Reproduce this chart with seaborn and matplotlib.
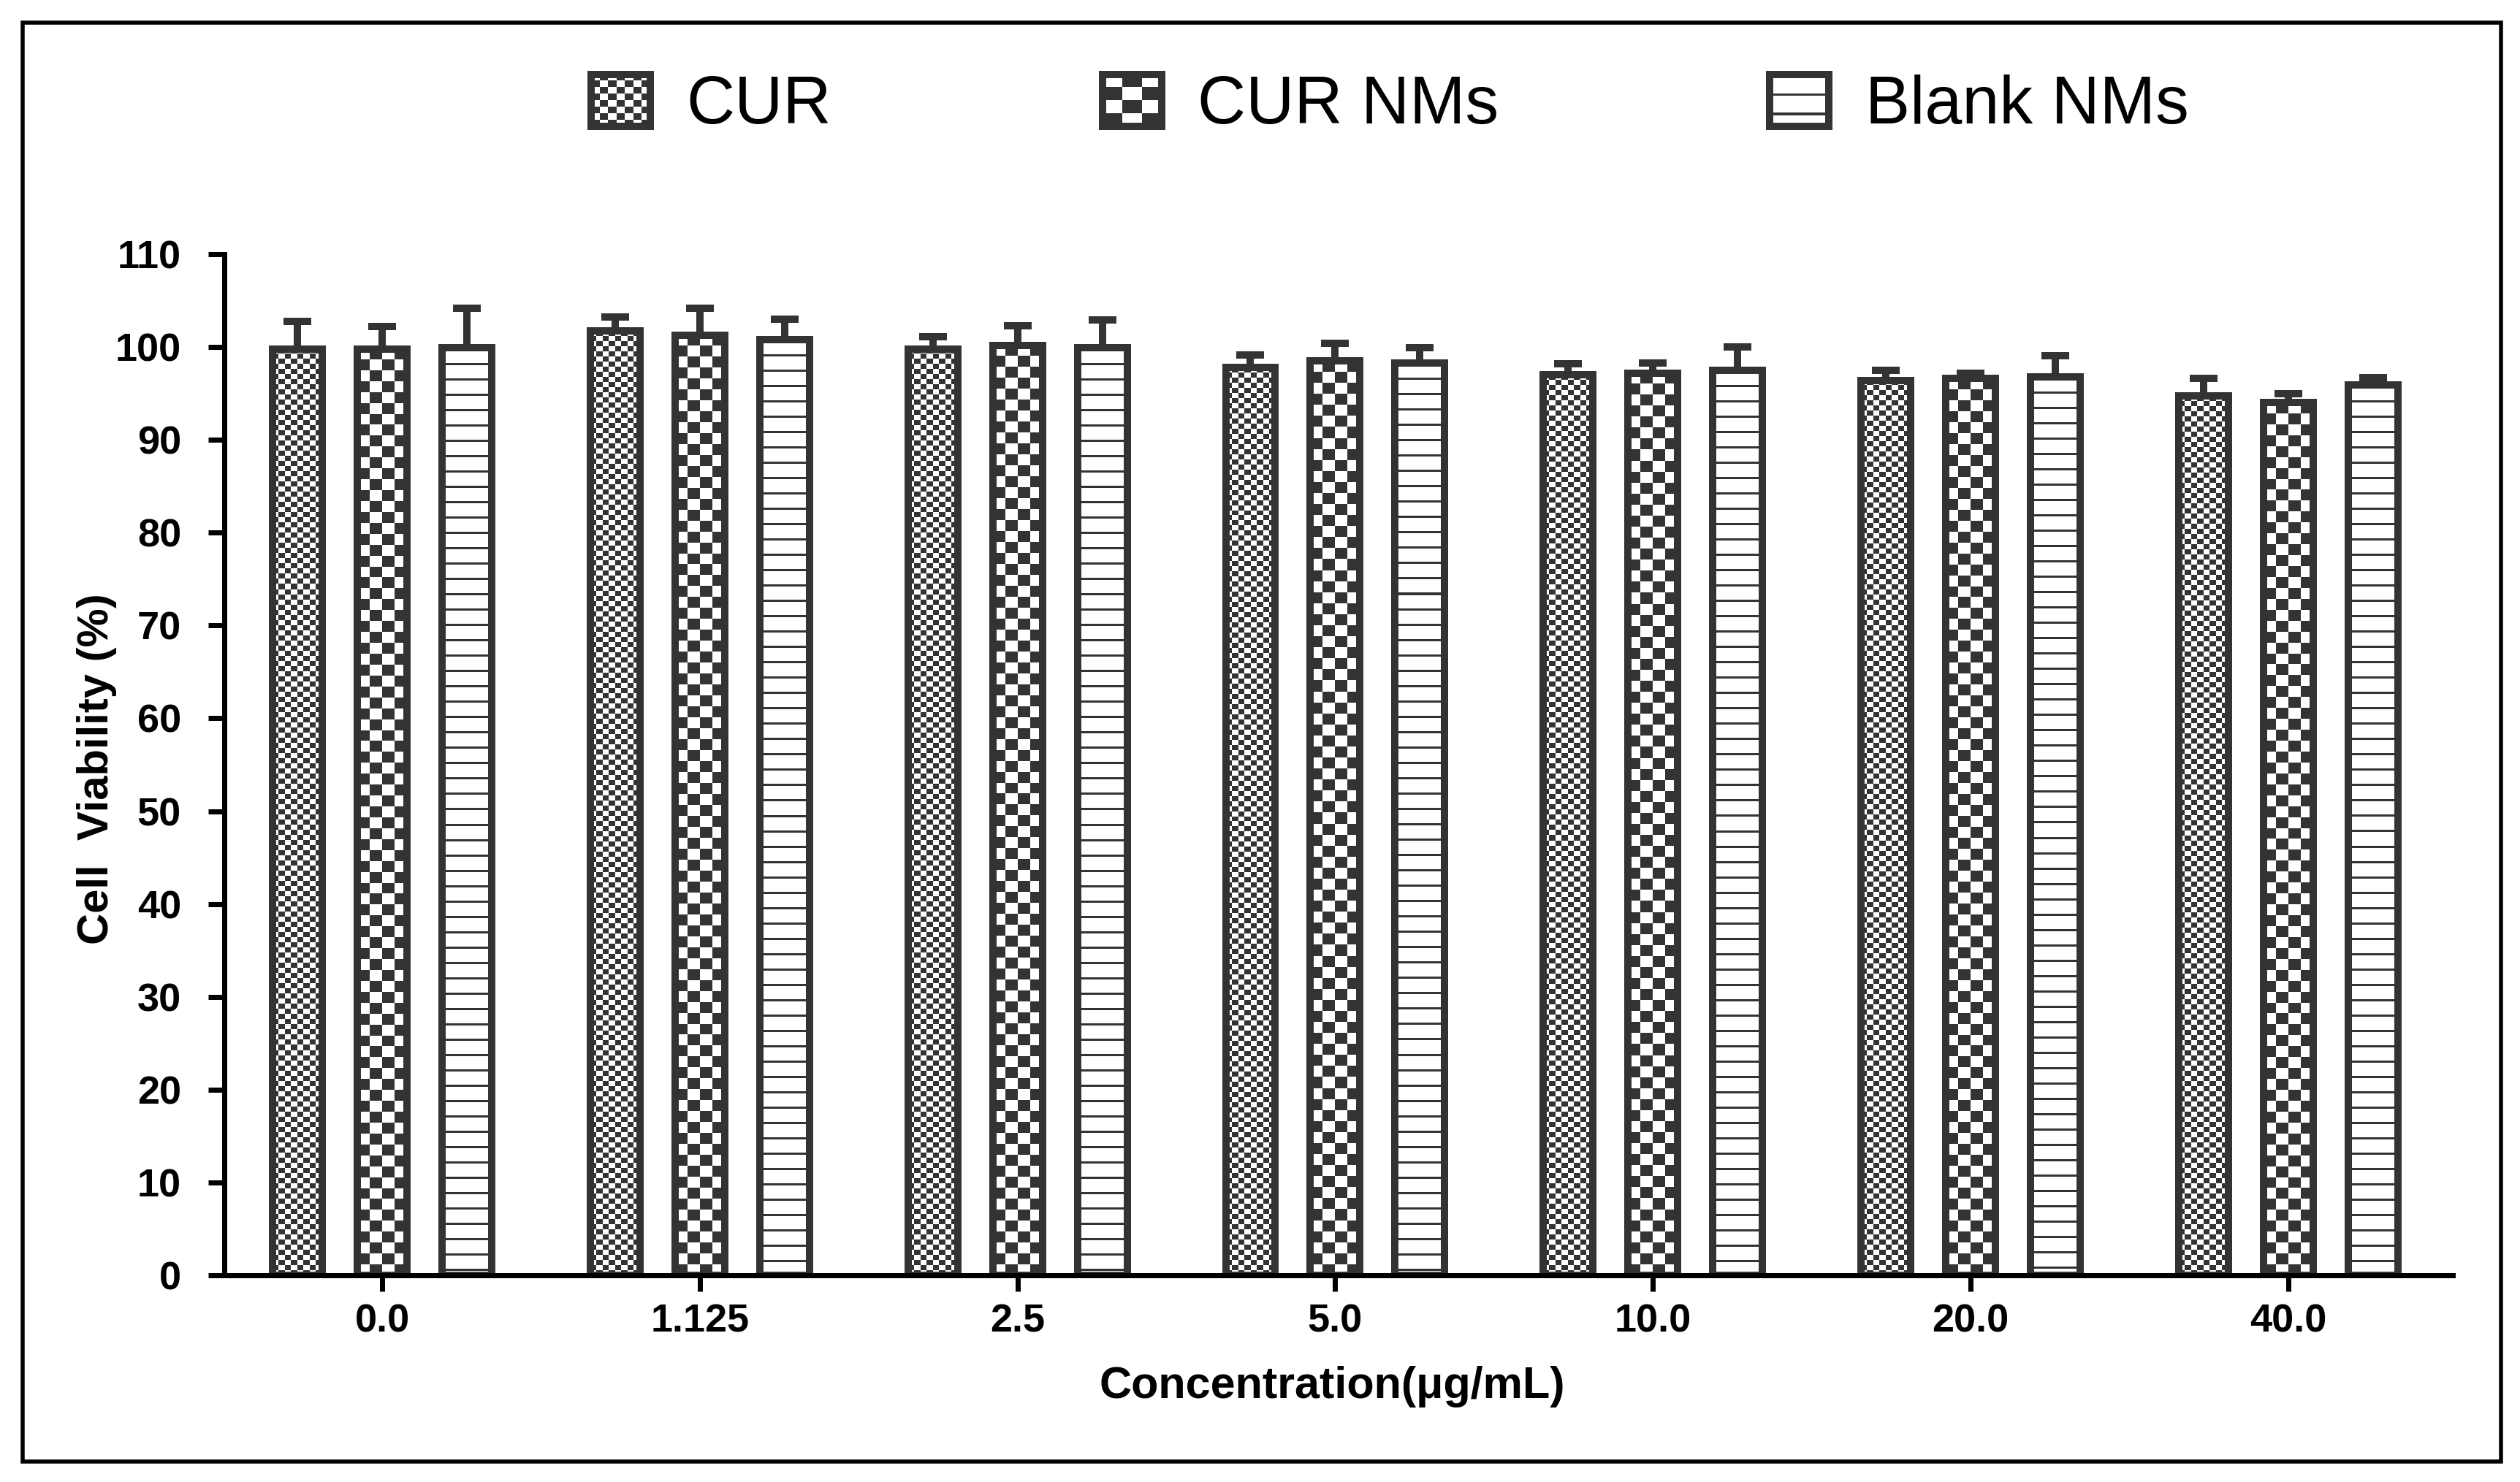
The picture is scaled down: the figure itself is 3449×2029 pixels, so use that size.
import numpy as np
import pandas as pd
import matplotlib
matplotlib.use("Agg")
import matplotlib.pyplot as plt
import seaborn as sns
from matplotlib.colors import ListedColormap, Normalize
from matplotlib.patches import Rectangle, Patch
from matplotlib.legend_handler import HandlerBase
from matplotlib.image import BboxImage
from matplotlib.transforms import Bbox, TransformedBbox

# ---------------- data ----------------
concentrations = ["0.0", "1.125", "2.5", "5.0", "10.0", "20.0", "40.0"]
groups = ["CUR", "CUR NMs", "Blank NMs"]
cur_mean = [99.8, 101.7, 99.8, 97.8, 97.0, 96.4, 94.7]
cur_sd = [3.0, 1.5, 1.3, 1.35, 1.2, 1.05, 1.9]
nms_mean = [99.8, 101.3, 100.2, 98.5, 97.2, 96.6, 94.0]
nms_sd = [2.4, 2.85, 2.1, 1.9, 1.1, 0.6, 1.0]
blank_mean = [99.9, 100.8, 99.9, 98.3, 97.5, 96.8, 95.9]
blank_sd = [4.25, 2.2, 3.05, 1.65, 2.5, 2.25, 0.8]
yticks = list(range(0, 111, 10))
xlabel = "Concentration(μg/mL)"
ylabel = "Cell  Viability (%)"

means = {"CUR": cur_mean, "CUR NMs": nms_mean, "Blank NMs": blank_mean}
sds = {"CUR": cur_sd, "CUR NMs": nms_sd, "Blank NMs": blank_sd}

df = pd.DataFrame({
    "conc": concentrations * 3,
    "group": [g for g in groups for _ in concentrations],
    "viab": cur_mean + nms_mean + blank_mean,
})

# ---------------- style ----------------
sns.set_theme(style="ticks")
plt.rcParams["font.family"] = ["Liberation Sans", "DejaVu Sans"]
plt.rcParams["text.color"] = "black"
plt.rcParams["axes.labelcolor"] = "black"
plt.rcParams["xtick.color"] = "black"
plt.rcParams["ytick.color"] = "black"
DARK = "#333333"
DPI = 200
W, H = 3449, 2029


def px(v):
    return v * 72.0 / DPI


fig = plt.figure(figsize=(W / DPI, H / DPI), dpi=DPI)
ax_l, ax_r, ax_t, ax_b = 307, 3357, 348, 1746
ax = fig.add_axes([ax_l / W, 1 - ax_b / H, (ax_r - ax_l) / W, (ax_b - ax_t) / H])

sns.barplot(data=df, x="conc", y="viab", hue="group", order=concentrations,
            hue_order=groups, palette=["white"] * 3, width=0.8, gap=0.414,
            errorbar=None, legend=False, ax=ax)

XLIM = (-0.497, 6.518)
YLIM = (0, 110)
ax.set_xlim(*XLIM)
ax.set_ylim(*YLIM)

cmap = ListedColormap(["white", DARK])
norm = Normalize(0, 1)


def checker(nr, nc):
    nr, nc = max(int(nr), 1), max(int(nc), 1)
    return (np.add.outer(np.arange(nr), np.arange(nc)) % 2).astype(float)


def stripes(nr, period=7):
    nr = max(int(nr), 1)
    arr = np.zeros((nr, 1))
    arr[(np.arange(nr) % period) == 0] = 1
    return arr


def texture(group, w_px, h_px):
    if group == "CUR":
        return checker(round(h_px / 7), round(w_px / 8))
    if group == "CUR NMs":
        return checker(round(h_px / 15), round(w_px / 17))
    return stripes(round(h_px / 3))


for gi, g in enumerate(groups):
    cont = ax.containers[gi]
    xs = []
    for p in cont.patches:
        x0, w, h = p.get_x(), p.get_width(), p.get_height()
        p.set_facecolor("none")
        p.set_edgecolor(DARK)
        p.set_linewidth(px(10))
        p.set_zorder(2)
        (bx0, by0) = ax.transData.transform((x0, 0))
        (bx1, by1) = ax.transData.transform((x0 + w, h))
        arr = texture(g, bx1 - bx0, by1 - by0)
        im = ax.imshow(arr, extent=(x0, x0 + w, 0, h), aspect="auto",
                       interpolation="nearest", cmap=cmap, norm=norm, zorder=1.5)
        im.set_clip_path(p)
        xs.append(x0 + w / 2)
    ax.errorbar(xs, means[g], yerr=[np.zeros(len(xs)), sds[g]], fmt="none",
                ecolor=DARK, elinewidth=px(10), capsize=7, capthick=px(10), zorder=3)

ax.set_xlim(*XLIM)
ax.set_ylim(*YLIM)

# axes styling
sns.despine(ax=ax)
for s in ["left", "bottom"]:
    ax.spines[s].set_linewidth(px(7))
    ax.spines[s].set_color("black")
ax.tick_params(axis="both", direction="out", length=px(22), width=px(7),
               color="black", labelcolor="black", bottom=True, left=True)
ax.tick_params(axis="y", pad=px(37))
ax.tick_params(axis="x", pad=px(16))
ax.set_yticks(yticks)
ax.set_yticklabels([str(t) for t in yticks], fontweight="bold", fontsize=19.5,
                   color="black")
ax.set_xticks(range(len(concentrations)))
ax.set_xticklabels(concentrations, fontweight="bold", fontsize=19.5, color="black")
ax.set_xlabel(xlabel, fontweight="bold", fontsize=22, color="black")
ax.set_ylabel(ylabel, fontweight="bold", fontsize=21.5, color="black")
ax.xaxis.set_label_coords(0.497, (ax_b - 1870) / (ax_b - ax_t))
ax.yaxis.set_label_coords((160 - ax_l) / (ax_r - ax_l), (ax_b - 1053) / (ax_b - ax_t))
ax.set_facecolor("white")


# legend with textured handles
class TextureHandler(HandlerBase):
    def __init__(self, arr):
        super().__init__()
        self.arr = arr

    def create_artists(self, legend, orig_handle, xdescent, ydescent, width,
                       height, fontsize, trans):
        bb = TransformedBbox(Bbox.from_bounds(-xdescent, -ydescent, width, height), trans)
        im = BboxImage(bb, cmap=cmap, norm=norm, interpolation="nearest")
        im.set_data(self.arr)
        rect = Rectangle((-xdescent, -ydescent), width, height, facecolor="none",
                         edgecolor=DARK, lw=px(10), transform=trans)
        return [im, rect]


leg_arrays = {
    "CUR": checker(8, 7),
    "CUR NMs": checker(4, 3),
    "Blank NMs": stripes(19, 7),
}
handles = [Patch(facecolor="none", edgecolor=DARK, label=g) for g in groups]
handler_map = {h: TextureHandler(leg_arrays[g]) for h, g in zip(handles, groups)}
leg = fig.legend(handles, groups, loc="center", bbox_to_anchor=(0.5515, 0.9285), ncol=3,
                 frameon=False, prop={"family": "Liberation Sans", "size": 33},
                 handlelength=0.88, handleheight=0.82, handletextpad=0.54,
                 columnspacing=4.05, handler_map=handler_map, labelcolor="black")

# outer frame
fig.add_artist(Rectangle((31 / W, 1 - 2001 / H), (3423 - 31) / W, (2001 - 31) / H,
                         transform=fig.transFigure, fill=False, lw=px(5.5),
                         edgecolor="black"))

fig.savefig("out.png", dpi=DPI, facecolor="white")
